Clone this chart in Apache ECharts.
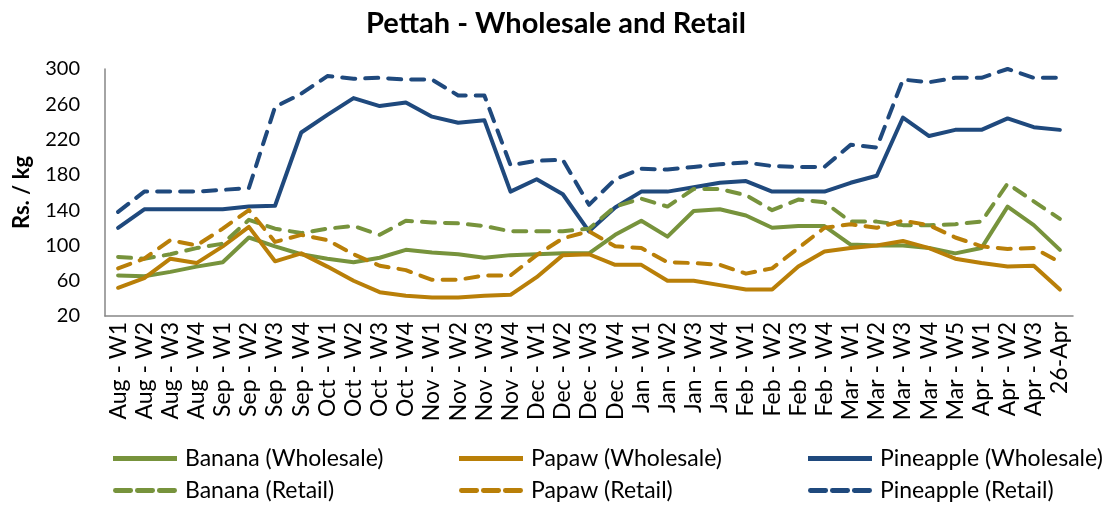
<!DOCTYPE html>
<html><head><meta charset="utf-8">
<script src="https://cdn.jsdelivr.net/npm/echarts@6/dist/echarts.min.js"></script>
<style>html,body{margin:0;padding:0;background:#fff}#c{width:1112px;height:510px}</style>
</head><body><div id="c"></div>
<script>
const categories = ["Aug - W1","Aug - W2","Aug - W3","Aug - W4","Sep - W1","Sep - W2","Sep - W3","Sep - W4","Oct - W1","Oct - W2","Oct - W3","Oct - W4","Nov - W1","Nov - W2","Nov - W3","Nov - W4","Dec - W1","Dec - W2","Dec - W3","Dec - W4","Jan - W1","Jan - W2","Jan - W3","Jan - W4","Feb - W1","Feb - W2","Feb - W3","Feb - W4","Mar - W1","Mar - W2","Mar - W3","Mar - W4","Mar - W5","Apr - W1","Apr - W2","Apr - W3","26-Apr"];
const bananaWholesale = [66,65,70,76,81,109,99,90,85,81,86,95,92,90,86,89,90,91,91,112,128,110,139,141,134,120,122,122,101,100,100,97,91,97,144,123,95];
const papawWholesale = [52,63,85,80,99,121,82,91,76,60,47,43,41,41,43,44,64,89,90,78,78,60,60,55,50,50,76,93,97,100,105,97,85,80,76,77,50];
const pineappleWholesale = [120,141,141,141,141,144,145,228,248,267,258,262,246,239,242,161,175,158,116,143,161,161,166,171,173,161,161,161,171,179,245,224,231,231,244,234,231];
const bananaRetail = [87,85,90,97,102,129,119,114,119,122,112,128,126,125,122,116,116,116,119,144,153,144,164,164,157,140,152,149,127,127,123,123,124,127,170,150,130];
const papawRetail = [74,85,106,100,119,140,104,112,106,90,77,72,61,61,66,66,89,108,116,99,97,81,80,78,68,74,97,120,124,120,128,123,109,99,96,97,81];
const pineappleRetail = [138,161,161,161,163,165,257,272,292,289,290,288,288,270,270,191,196,197,146,175,187,186,189,192,194,190,189,189,214,211,288,285,290,290,300,290,290];
const yTicks = [20,60,100,140,180,220,260,300];
const seriesNames = ["Banana (Wholesale)","Papaw (Wholesale)","Pineapple (Wholesale)","Banana (Retail)","Papaw (Retail)","Pineapple (Retail)"];

const GREEN = '#77933C', GOLD = '#B97F08', BLUE = '#1F497D';
const FONT = 'Lato';
const SOLID_ICON = 'path://M0,0H64V5H0Z';
const DASH_ICON = 'path://M1,0H17A1,1 0 0 1 17,5H1A1,1 0 0 1 1,0Z M24,0H40A1,1 0 0 1 40,5H24A1,1 0 0 1 24,0Z M47,0H63A1,1 0 0 1 63,5H47A1,1 0 0 1 47,0Z';
function s(name, data, color, dashed){
  return {name, type:'line', data, symbol:'none', showSymbol:false, smooth:false,
    lineStyle:{color, width:4, type: dashed ? [13,10] : 'solid', cap:'round', join:'round'},
    itemStyle:{color}};
}
const legendPos = [[113,447],[459,447],[808,447],[113,479],[459,479],[808,479]];
const legends = seriesNames.map((n,i)=>({data:[{name:n, icon: i<3 ? SOLID_ICON : DASH_ICON}], left:legendPos[i][0], top:legendPos[i][1],
  itemWidth:64, itemHeight:5, symbolKeepAspect:true, padding:0,
  textStyle:{fontFamily:FONT, fontSize:23, color:'#000', padding:[0,0,0,3]}}));

const chart = echarts.init(document.getElementById('c'), null, {renderer:'canvas'});
chart.setOption({
  animation:false,
  backgroundColor:'#fff',
  title:{text:'Pettah - Wholesale and Retail', left:'center', top:4, textStyle:{fontFamily:FONT, fontSize:29, fontWeight:'bold', color:'#000'}},
  legend: legends,
  grid:{left:105, right:39, top:69, bottom:194, containLabel:false},
  xAxis:{type:'category', data:categories, boundaryGap:true,
    axisLine:{lineStyle:{color:'#868686', width:1.5}}, axisTick:{show:false},
    axisLabel:{rotate:90, interval:0, fontFamily:FONT, fontSize:23, color:'#000', margin:6}},
  yAxis:{type:'value', min:yTicks[0], max:yTicks[yTicks.length-1], interval:40,
    name:'Rs. / kg', nameLocation:'middle', nameGap:72, nameRotate:90,
    nameTextStyle:{fontFamily:FONT, fontSize:22, fontWeight:'bold', color:'#000'},
    axisLine:{show:true, lineStyle:{color:'#868686', width:1.5}}, axisTick:{show:false},
    splitLine:{show:false},
    axisLabel:{fontFamily:FONT, fontSize:20, color:'#000', margin:25}},
  series:[
    s(seriesNames[0], bananaWholesale, GREEN, false),
    s(seriesNames[1], papawWholesale, GOLD, false),
    s(seriesNames[2], pineappleWholesale, BLUE, false),
    s(seriesNames[3], bananaRetail, GREEN, true),
    s(seriesNames[4], papawRetail, GOLD, true),
    s(seriesNames[5], pineappleRetail, BLUE, true)
  ]
});
</script></body></html>
